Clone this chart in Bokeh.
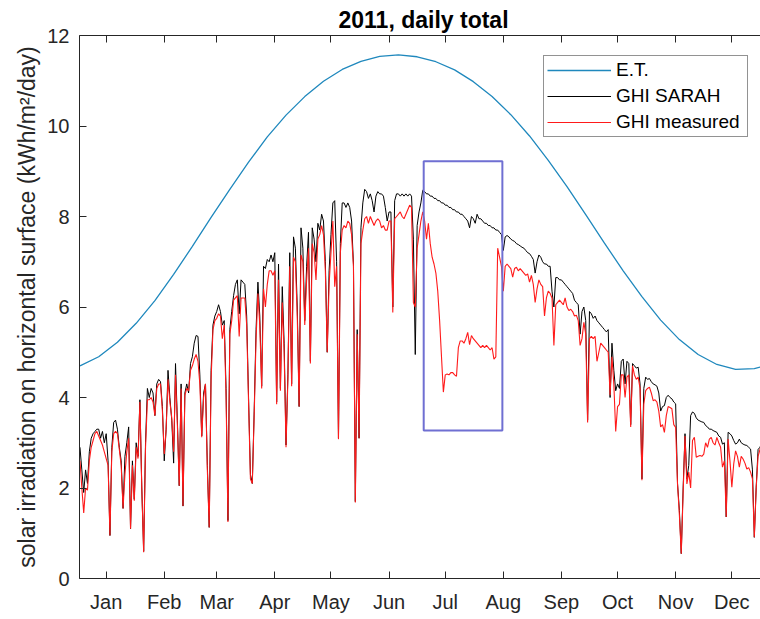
from bokeh.plotting import figure
from bokeh.models import (FixedTicker, LinearAxis, BoxAnnotation, Legend,
                          LegendItem, Range1d, CustomLabelingPolicy)
from bokeh.embed import file_html
from bokeh.resources import INLINE

FONT = "Liberation Sans"
INK = "#262626"

# ---- axis ticks (day of year, middle of each month) ----
month_ticks = [15, 46, 74, 105, 135, 166, 196, 227, 258, 288, 319, 349]
month_labels = ["Jan", "Feb", "Mar", "Apr", "May", "Jun",
                "Jul", "Aug", "Sep", "Oct", "Nov", "Dec"]
value_ticks = [0, 2, 4, 6, 8, 10, 12]

# ---- extraterrestrial daily irradiation (kWh/m2/day) ----
et_days = [1, 11, 21, 31, 41, 51, 61, 71, 81, 91, 101, 111, 121, 131, 141,
           151, 161, 171, 181, 191, 201, 211, 221, 231, 241, 251, 261, 271,
           281, 291, 301, 311, 321, 331, 341, 351, 361, 365]
et_values = [4.70, 4.90, 5.22, 5.64, 6.14, 6.72, 7.34, 7.98, 8.60, 9.20,
             9.76, 10.24, 10.65, 10.99, 11.25, 11.43, 11.54, 11.57, 11.53,
             11.42, 11.24, 10.98, 10.65, 10.25, 9.78, 9.24, 8.66, 8.04,
             7.41, 6.80, 6.23, 5.71, 5.28, 4.95, 4.73, 4.62, 4.64, 4.68]

# ---- daily GHI, 2011 (kWh/m2/day) ----
days = list(range(1, 366))

ghi_sarah = [
    2.9, 2.4, 1.9, 2.4, 2.1, 2.8, 3.1, 3.2, 3.25, 3.3,
    3.3, 3.1, 3.25, 3.0, 3.2, 2.6, 0.95, 2.9, 3.45, 3.5,
    3.3, 2.9, 2.6, 1.55, 2.7, 3.0, 3.35, 1.1, 2.6, 1.75,
    3.0, 2.7, 3.95, 2.0, 0.6, 3.0, 4.2, 4.0, 4.2, 4.1,
    3.6, 4.3, 4.4, 4.35, 3.8, 2.6, 3.3, 4.6, 4.0, 3.5,
    2.55, 4.75, 3.5, 2.05, 4.3, 1.6, 4.1, 4.3, 4.1, 4.75,
    4.9, 5.2, 5.37, 5.35, 4.5, 3.15, 4.1, 4.3, 2.5, 1.13,
    4.6, 5.6, 5.8, 5.9, 6.05, 5.9, 5.6, 5.7, 4.2, 1.28,
    5.5, 5.9, 6.25, 6.5, 6.6, 5.85, 6.6, 6.55, 6.5, 5.8,
    4.0, 2.3, 2.1, 3.7, 5.5, 6.55, 5.8, 4.25, 6.9, 6.85,
    7.05, 7.0, 7.15, 7.0, 7.2, 3.9, 6.95, 4.2, 6.45, 5.2,
    2.95, 4.5, 7.2, 4.3, 7.55, 7.3, 6.0, 3.8, 7.75, 7.3,
    5.7, 6.9, 7.65, 4.8, 7.75, 7.5, 7.0, 7.85, 7.7, 8.05,
    7.9, 7.0, 5.0, 6.8, 7.6, 8.3, 8.35, 7.0, 3.1, 7.4,
    8.3, 8.3, 8.2, 8.3, 8.2, 7.9, 6.95, 1.7, 5.5, 3.1,
    7.75, 8.3, 8.6, 8.55, 8.4, 8.5, 8.35, 8.1, 8.45, 8.55,
    8.5, 8.5, 8.45, 8.2, 7.9, 8.1, 8.1, 6.0, 8.35, 8.5,
    8.5, 8.45, 8.5, 8.45, 8.5, 8.45, 8.5, 8.45, 7.5, 4.95,
    7.8, 8.1, 8.3, 8.58, 8.55, 8.5, 8.5, 8.45, 8.45, 8.4,
    8.4, 8.35, 8.35, 8.3, 8.3, 8.25, 8.25, 8.2, 8.2, 8.15,
    8.15, 8.1, 8.1, 8.05, 8.05, 8.0, 7.95, 7.9, 7.75, 8.0,
    7.95, 7.85, 8.05, 7.95, 7.95, 7.9, 7.85, 7.85, 7.8, 7.8,
    7.75, 7.75, 7.7, 7.7, 7.65, 7.6, 7.25, 7.55, 7.58, 7.55,
    7.5, 7.47, 7.45, 7.4, 7.38, 7.35, 7.32, 7.3, 7.25, 7.2,
    7.18, 7.12, 7.05, 6.75, 7.0, 7.15, 7.1, 7.0, 6.95, 6.95,
    6.9, 6.9, 6.35, 6.0, 6.65, 6.65, 6.6, 6.6, 6.55, 6.5,
    6.45, 6.4, 6.35, 6.3, 6.15, 6.1, 6.05, 5.4, 5.9, 6.0,
    5.7, 3.5, 5.9, 5.85, 5.75, 5.8, 5.7, 5.65, 5.6, 5.55,
    5.5, 5.45, 5.5, 4.0, 5.2, 4.6, 4.15, 4.3, 4.2, 4.8,
    4.85, 4.3, 4.8, 4.75, 3.4, 4.75, 4.7, 4.65, 4.67, 4.3,
    2.2, 4.2, 4.45, 4.4, 4.42, 4.35, 4.3, 4.28, 4.25, 4.1,
    3.7, 3.8, 3.82, 4.0, 4.05, 4.0, 3.97, 3.9, 3.86, 2.1,
    1.5, 0.55, 2.0, 3.2, 2.2, 2.5, 3.6, 3.68, 3.65, 3.55,
    3.5, 3.48, 3.46, 3.45, 3.38, 3.35, 3.3, 3.3, 3.27, 3.25,
    3.23, 3.15, 3.12, 2.97, 3.0, 1.36, 3.23, 3.2, 3.15, 3.05,
    2.97, 3.0, 3.08, 3.0, 2.97, 2.95, 2.94, 2.9, 2.86, 2.4,
    0.91, 2.02, 2.85, 2.9, 3.0,
]

ghi_measured = [
    2.6, 2.0, 1.45, 2.0, 1.95, 2.6, 2.9, 3.05, 3.2, 3.25,
    3.15, 3.05, 2.95, 2.8, 2.65, 2.5, 0.95, 2.8, 3.2, 3.25,
    3.2, 2.85, 2.5, 1.55, 2.3, 2.8, 3.1, 1.1, 2.5, 1.72,
    2.9, 2.65, 3.9, 2.0, 0.58, 2.9, 3.95, 3.95, 4.0, 3.9,
    3.6, 4.2, 4.3, 4.3, 3.7, 2.75, 3.3, 4.4, 3.9, 3.55,
    2.8, 4.5, 3.4, 2.05, 4.2, 1.6, 4.05, 4.2, 4.15, 4.6,
    4.7, 4.85, 4.95, 4.8, 4.3, 3.12, 4.0, 4.3, 2.4, 1.13,
    4.4, 5.5, 5.7, 5.75, 5.85, 5.8, 5.3, 5.6, 4.0, 1.25,
    5.4, 5.7, 6.15, 6.2, 6.25, 5.35, 6.2, 6.2, 6.2, 5.6,
    3.9, 2.2, 2.1, 3.6, 5.3, 6.3, 5.6, 4.2, 6.4, 6.0,
    6.5, 6.8, 6.8, 6.7, 6.8, 3.85, 6.6, 4.15, 6.1, 5.0,
    2.9, 4.4, 6.9, 4.25, 7.1, 7.0, 5.8, 3.8, 7.15, 7.0,
    5.6, 6.6, 7.3, 4.75, 7.4, 7.2, 6.6, 7.5, 7.6, 7.8,
    7.6, 6.8, 5.0, 6.5, 7.2, 7.9, 6.45, 6.9, 3.08, 7.2,
    7.7, 7.8, 7.75, 7.9, 7.85, 7.6, 6.9, 1.68, 5.4, 3.1,
    7.4, 7.7, 7.95, 8.0, 7.85, 8.0, 7.9, 7.8, 7.9, 7.95,
    7.9, 7.75, 7.8, 7.7, 7.7, 7.9, 7.9, 5.88, 7.95, 8.0,
    8.05, 8.1, 8.0, 7.95, 8.05, 8.15, 8.25, 8.2, 6.1, 6.0,
    7.3, 7.6, 7.9, 8.1, 7.9, 7.5, 7.85, 7.4, 7.1, 6.95,
    6.75, 6.35, 5.7, 4.9, 4.12, 4.5, 4.52, 4.5, 4.55, 4.55,
    4.5, 4.47, 5.1, 5.25, 5.25, 5.2, 5.3, 5.44, 5.17, 5.37,
    5.3, 5.25, 5.2, 5.15, 5.1, 5.15, 5.1, 5.15, 5.1, 5.05,
    5.1, 4.85, 4.9, 7.3, 7.1, 6.9, 6.35, 6.9, 6.95, 6.9,
    6.85, 6.66, 6.85, 6.88, 6.8, 6.85, 6.8, 6.75, 6.7, 6.73,
    6.55, 6.7, 6.5, 6.1, 6.4, 6.6, 6.5, 6.45, 5.8, 6.2,
    6.35, 6.3, 6.2, 5.15, 6.05, 6.1, 6.15, 6.1, 6.05, 6.2,
    6.0, 5.92, 5.95, 5.9, 5.8, 5.82, 5.7, 5.15, 5.3, 5.66,
    5.4, 3.45, 5.3, 5.35, 5.3, 5.35, 4.8, 5.0, 5.2, 5.15,
    5.1, 5.05, 5.0, 4.05, 4.9, 4.3, 3.25, 3.8, 3.85, 4.5,
    4.5, 4.0, 4.45, 4.5, 3.35, 4.7, 4.5, 4.4, 4.45, 4.2,
    2.17, 3.85, 4.15, 4.2, 4.23, 4.1, 3.93, 3.95, 3.9, 3.7,
    3.35, 3.4, 3.23, 3.6, 3.8, 3.78, 3.75, 3.4, 3.34, 2.09,
    1.4, 0.55, 1.9, 3.15, 2.09, 2.35, 2.0, 3.05, 3.12, 2.68,
    2.7, 2.72, 2.7, 2.75, 3.0, 2.9, 3.08, 3.12, 3.0, 2.95,
    3.12, 3.0, 2.9, 2.46, 2.6, 1.36, 3.08, 2.6, 2.02, 2.53,
    2.82, 2.7, 2.46, 2.7, 2.64, 2.55, 2.42, 2.45, 2.35, 2.2,
    0.91, 2.0, 2.7, 2.85, 2.95,
]

# ---- highlighted period (days, kWh/m2/day) ----
box_days = (184.5, 226.5)
box_values = (3.27, 9.22)

p = figure(width=760, height=619,
           x_range=Range1d(0.75, 364.3), y_range=Range1d(0, 12),
           output_backend="svg", toolbar_location=None,
           min_border_left=79, min_border_right=0,
           min_border_top=35, min_border_bottom=41,
           background_fill_color="white", border_fill_color="white")
p.outline_line_color = None
p.xgrid.visible = False
p.ygrid.visible = False

p.title.text = "2011, daily total"
p.title.text_font = FONT
p.title.text_font_size = "23px"
p.title.text_font_style = "bold"
p.title.text_color = "#000000"
p.title.align = "left"
p.title.offset = 259
p.title.standoff = 5


def style_axis(ax):
    ax.axis_line_color = INK
    ax.axis_line_width = 1
    ax.major_tick_line_color = INK
    ax.major_tick_in = 7
    ax.major_tick_out = 0
    ax.minor_tick_in = 0
    ax.minor_tick_out = 0
    ax.major_label_text_font = FONT
    ax.major_label_text_font_size = "20px"
    ax.major_label_text_color = INK


xa = p.xaxis[0]
xa.ticker = FixedTicker(ticks=month_ticks)
xa.major_label_overrides = {t: m for t, m in zip(month_ticks, month_labels)}
style_axis(xa)
xa.major_label_standoff = 12

ya = p.yaxis[0]
ya.ticker = FixedTicker(ticks=value_ticks)
style_axis(ya)
ya.major_label_standoff = 10
ya.axis_label = "solar irradiation on horizontal surface (kWh/m\u00b2/day)"
ya.axis_label_text_font = FONT
ya.axis_label_text_font_size = "23px"
ya.axis_label_text_font_style = "normal"
ya.axis_label_text_color = INK
ya.axis_label_standoff = 4

# top edge: tick marks only, no labels drawn
top = LinearAxis(ticker=FixedTicker(ticks=month_ticks))
style_axis(top)
top.major_label_text_font_size = "0px"
top.major_label_standoff = 0
top.major_label_policy = CustomLabelingPolicy(code="return new Set()")
p.add_layout(top, "above")

r_et = p.line(et_days, et_values, line_color="#1f88bd", line_width=1.3)
r_sarah = p.line(days, ghi_sarah, line_color="#000000", line_width=1)
r_meas = p.line(days, ghi_measured, line_color="#ff1a1a", line_width=1.1)

p.add_layout(BoxAnnotation(left=box_days[0], right=box_days[1],
                           bottom=box_values[0], top=box_values[1],
                           fill_alpha=0, line_color="#6f6fd2",
                           line_alpha=1, line_width=2))

legend = Legend(items=[LegendItem(label="E.T.", renderers=[r_et]),
                       LegendItem(label="GHI SARAH", renderers=[r_sarah]),
                       LegendItem(label="GHI measured", renderers=[r_meas])],
                location=(464, 441))
legend.margin = 0
legend.padding = 3
legend.spacing = 4
legend.glyph_width = 64
legend.glyph_height = 20
legend.label_standoff = 5
legend.label_width = 128
legend.label_text_font = FONT
legend.label_text_font_size = "19px"
legend.label_text_color = "#000000"
legend.border_line_color = INK
legend.border_line_width = 1
legend.background_fill_color = "white"
legend.background_fill_alpha = 1
p.add_layout(legend)

open("out.html", "w").write(file_html(p, INLINE))
